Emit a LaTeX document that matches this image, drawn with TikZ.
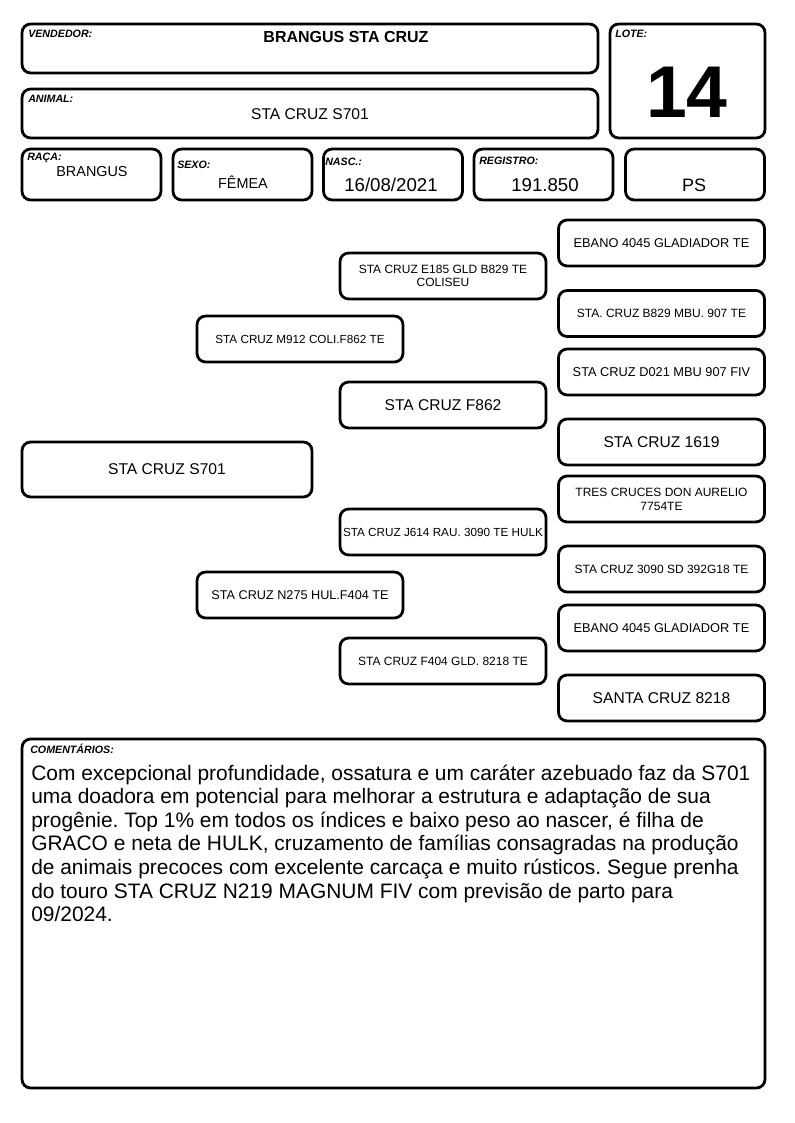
\documentclass[tikz,border=0pt]{standalone}
\usepackage{fontspec}
\setmainfont{Liberation Sans}
\frenchspacing
\newcommand\labfont{\fontsize{8}{9}\selectfont\bfseries\itshape}
\newcommand\pedfont{\fontsize{9}{10.3}\selectfont}
\newcommand\pedbig{\fontsize{11.7}{13}\selectfont}
\begin{document}
\begin{tikzpicture}[x=.75pt, y=-.75pt,
  box/.style={draw, line width=2.1pt, rounded corners=6.5pt, inner sep=0pt},
  hdbox/.style={box, minimum width=104.25pt, minimum height=38.25pt},
  pedbox/.style={box, minimum width=154.5pt, minimum height=34.5pt, align=center, font=\pedfont},
  lab/.style={anchor=base west, inner sep=0pt, font=\labfont},
  val/.style={anchor=base, inner sep=0pt}]

\useasboundingbox (0,0) rectangle (794,1123);

\node[box, minimum width=432pt, minimum height=36.75pt] (vend) at (310,48.5) {};
\node[box, minimum width=432pt, minimum height=36.75pt] (anim) at (310,113.5) {};
\node[box, minimum width=116.25pt, minimum height=85.5pt] (lote) at (687.5,81) {};

\node[lab] (vendlab) at (28,38) {VENDEDOR:};
\node[lab] (animlab) at (28,103) {ANIMAL:};
\node[lab] (lotelab) at (615,38) {LOTE:};

\node[val, font=\fontsize{12}{14}\selectfont\bfseries] (vendval) at (346,43) {BRANGUS STA CRUZ};
\node[val, font=\fontsize{11.7}{14}\selectfont] (animval) at (310,120) {STA CRUZ S701};
\node[val, font=\fontsize{55}{60}\selectfont\bfseries] (loteval) at (687,118) {14};

\node[hdbox] (raca) at (91.5,174.5) {};
\node[hdbox] (sexo) at (242.5,174.5) {};
\node[hdbox] (nasc) at (393,174.5) {};
\node[hdbox] (reg) at (543.5,174.5) {};
\node[hdbox] (ps) at (695,174.5) {};

\node[lab] (racalab) at (27,161) {RAÇA:};
\node[lab] (sexolab) at (177,169) {SEXO:};
\node[lab] (nasclab) at (325,166) {NASC.:};
\node[lab] (reglab) at (479,165) {REGISTRO:};

\node[val, font=\fontsize{10.8}{13}\selectfont] (racaval) at (92,177) {BRANGUS};
\node[val, font=\fontsize{10.8}{13}\selectfont] (sexoval) at (243,189) {FÊMEA};
\node[val, font=\fontsize{14}{16}\selectfont] (nascval) at (391,192) {16/08/2021};
\node[val, font=\fontsize{14}{16}\selectfont] (regval) at (545,192) {191.850};
\node[val, font=\fontsize{13.5}{16}\selectfont] (psval) at (694,192) {PS};

\node[box, minimum width=217.5pt, minimum height=41.25pt, font=\pedbig] (animal) at (167,469.5) {STA CRUZ S701};

\node[pedbox, font=\fontsize{8.8}{10}\selectfont] (s) at (300,339) {STA CRUZ M912 COLI.F862 TE};
\node[pedbox, font=\fontsize{9.5}{11}\selectfont] (d) at (300,595) {STA CRUZ N275 HUL.F404 TE};

\node[pedbox] (ss) at (443,276) {STA CRUZ E185 GLD B829 TE\\COLISEU};
\node[pedbox, font=\pedbig] (sd) at (443,405) {STA CRUZ F862};
\node[pedbox, font=\fontsize{8.8}{10}\selectfont] (ds) at (443,532) {STA CRUZ J614 RAU. 3090 TE HULK};
\node[pedbox] (dd) at (443,661) {STA CRUZ F404 GLD. 8218 TE};

\node[pedbox, font=\fontsize{9.6}{11}\selectfont] (sss) at (661.5,243) {EBANO 4045 GLADIADOR TE};
\node[pedbox] (ssd) at (661.5,313.5) {STA. CRUZ B829 MBU. 907 TE};
\node[pedbox, font=\fontsize{9.6}{11}\selectfont] (sds) at (661.5,372) {STA CRUZ D021 MBU 907 FIV};
\node[pedbox, font=\pedbig] (sdd) at (661.5,442) {STA CRUZ 1619};
\node[pedbox] (dss) at (661.5,499) {TRES CRUCES DON AURELIO\\7754TE};
\node[pedbox] (dsd) at (661.5,569) {STA CRUZ 3090 SD 392G18 TE};
\node[pedbox, font=\fontsize{9.6}{11}\selectfont] (dds) at (661.5,628) {EBANO 4045 GLADIADOR TE};
\node[pedbox, font=\pedbig] (ddd) at (661.5,698) {SANTA CRUZ 8218};

\node[box, minimum width=557.25pt, minimum height=261.75pt] (coment) at (393.5,913.5) {};
\node[lab] (comentlab) at (30,753) {COMENTÁRIOS:};
\node[anchor=north west, inner sep=0pt, align=left, font=\fontsize{15.7}{17.7}\selectfont] (comenttxt) at (31,764.5)
  {Com excepcional profundidade, ossatura e um caráter azebuado faz da S701\\
   uma doadora em potencial para melhorar a estrutura e adaptação de sua\\
   progênie. Top 1\% em todos os índices e baixo peso ao nascer, é filha de\\
   GRACO e neta de HULK, cruzamento de famílias consagradas na produção\\
   de animais precoces com excelente carcaça e muito rústicos. Segue prenha\\
   do touro STA CRUZ N219 MAGNUM FIV com previsão de parto para\\
   09/2024.};
\end{tikzpicture}
\end{document}
